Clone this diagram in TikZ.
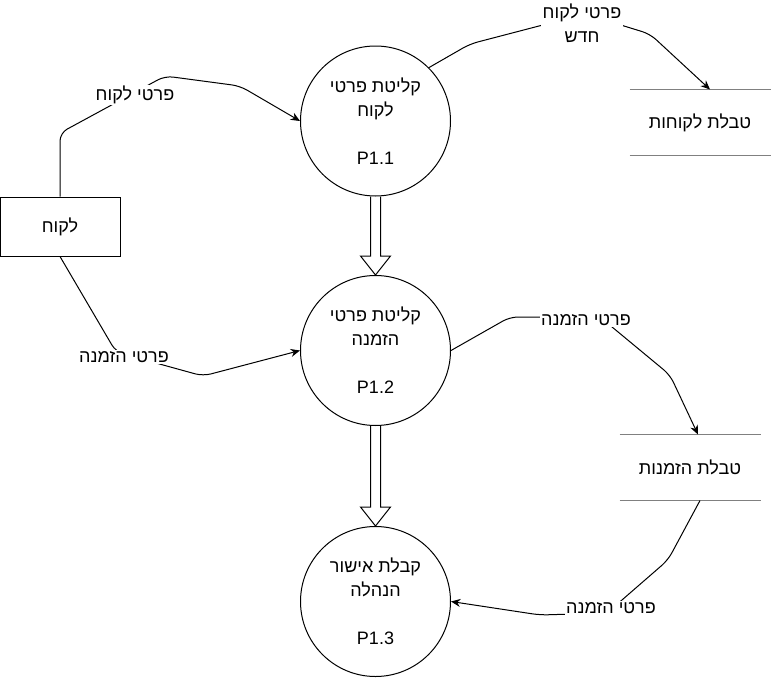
\documentclass[tikz,border=0pt]{standalone}
\usepackage{fontspec}
\setmainfont{Liberation Sans}
\newfontfamily\hebfont[Script=Hebrew]{Liberation Sans}
\TeXXeTstate=1
\usetikzlibrary{arrows.meta,calc}
\newcommand{\heb}[1]{{\hebfont\beginR #1\endR}}

\tikzset{every picture/.style={line width=0.75pt}}
\tikzset{
	process/.style={draw, circle, minimum size=112.5pt, inner sep=0pt, align=center},
	entity/.style={draw, rectangle, minimum width=90pt, minimum height=44.25pt},
	datastore/.style={minimum width=105pt, minimum height=48.75pt},
	storeline/.style={draw=black!50},
	flow/.style={-{Stealth[length=7pt,width=6pt]}, rounded corners=6pt},
	flowlabel/.style={fill=white, inner sep=1pt, align=center},
}

\begin{document}
\begin{tikzpicture}[x=0.75pt,y=0.75pt,yscale=-1,xscale=1,font=\fontsize{13.5}{18}\selectfont]
	\useasboundingbox (0,0) rectangle (771,678);
	
	%Shape: Circles
	\node[process] (p11) at (375.5,121) {\heb{קליטת פרטי}\\\heb{לקוח}\\[18pt]P1.1};
	\node[process] (p12) at (375.5,350.5) {\heb{קליטת פרטי}\\\heb{הזמנה}\\[18pt]P1.2};
	\node[process] (p13) at (375.5,601.5) {\heb{קבלת אישור}\\\heb{הנהלה}\\[18pt]P1.3};
	%Shape: Rectangle
	\node[entity] (client) at (60,226.5) {\heb{לקוח}};
	%Data stores
	\node[datastore] (custstore) at (700,122.5) {\heb{טבלת לקוחות}};
	\draw[storeline] (custstore.north west) -- (custstore.north east);
	\draw[storeline] (custstore.south west) -- (custstore.south east);
	\node[datastore] (ordstore) at (690,467.5) {\heb{טבלת הזמנות}};
	\draw[storeline] (ordstore.north west) -- (ordstore.north east);
	\draw[storeline] (ordstore.south west) -- (ordstore.south east);
	
	%Hollow arrows
	\foreach \a/\b in {p11/p12, p12/p13}
		\draw ($(\a.south)+(-5,0)$) -- ($(\b.north)+(-5,-19)$) -- ($(\b.north)+(-15,-19)$) -- (\b.north) -- ($(\b.north)+(15,-19)$) -- ($(\b.north)+(5,-19)$) -- ($(\a.south)+(5,0)$);
	
	%Straight Lines
	\draw[flow] (client.north) -- (60,133) -- (165,76) -- (240,86) -- (p11.west);
	\draw[flow] (p11.north east) -- (470,44) -- (585,14) -- (650,34) -- ($(custstore.north)+(10,0)$);
	\draw[flow] (client.south) -- (116,352) -- (203,376) -- (p12.west);
	\draw[flow] (p12.east) -- (510,317) -- (600,317) -- (670,375) -- ($(ordstore.north)+(8,0)$);
	\draw[flow] ($(ordstore.south)+(10,0)$) -- (668,560) -- (607,613) -- (540,615) -- (p13.east);
	
	% Text Node
	\node[flowlabel] (lbl1) at (135,95) {\heb{פרטי לקוח}};
	% Text Node
	\node[flowlabel] (lbl2) at (582,23.5) {\heb{פרטי לקוח}\\\heb{חדש}};
	% Text Node
	\node[flowlabel] (lbl3) at (124,357) {\heb{פרטי הזמנה}};
	% Text Node
	\node[flowlabel] (lbl4) at (586,320) {\heb{פרטי הזמנה}};
	% Text Node
	\node[flowlabel] (lbl5) at (611,608) {\heb{פרטי הזמנה}};
	
\end{tikzpicture}
\end{document}
